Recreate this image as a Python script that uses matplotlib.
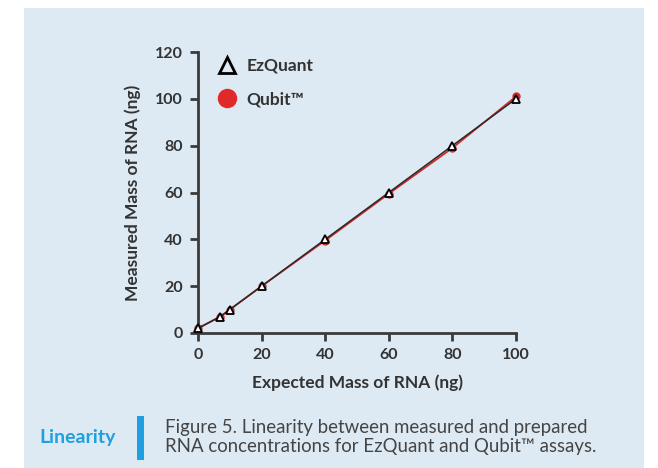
import numpy as np
import matplotlib.pyplot as plt
from matplotlib.lines import Line2D
from matplotlib.patches import Rectangle

plt.rcParams['font.family'] = ['Lato', 'DejaVu Sans']

# data
expected = [0, 7, 10, 20, 40, 60, 80, 100]
ezquant = [2, 7, 10, 20, 40, 60, 80, 100]
qubit = [2, 7, 10, 20, 39.5, 59.5, 79, 101]
xticks = [0, 20, 40, 60, 80, 100]
yticks = [0, 20, 40, 60, 80, 100, 120]

bg = '#deeaf3'
dark = '#333333'

fig = plt.figure(figsize=(6.58, 4.68), dpi=100)
fig.patch.set_facecolor('white')
# light blue panel behind everything
fig.patches.append(Rectangle((24 / 658, 0), 620 / 658, 1 - 8 / 468,
                             transform=fig.transFigure, facecolor=bg,
                             edgecolor='none', zorder=-10))

ax = fig.add_axes([198 / 658, 1 - 333 / 468, 318 / 658, 281 / 468])
ax.set_facecolor(bg)

ax.plot(expected, qubit, color='#d42a2a', lw=1.3, marker='o', ms=5,
        mfc='#d42a2a', mec='#d42a2a', clip_on=False, zorder=3)
ax.plot(expected, ezquant, color='#2a2a2a', lw=1.1, marker='^', ms=6,
        mfc='white', mec='black', mew=1.3, clip_on=False, zorder=4)

ax.set_xlim(0, 100)
ax.set_ylim(0, 120)
ax.set_xticks(xticks)
ax.set_yticks(yticks)
for s in ['top', 'right']:
    ax.spines[s].set_visible(False)
for s in ['left', 'bottom']:
    ax.spines[s].set_color('#3a3a3a')
    ax.spines[s].set_linewidth(2)
ax.tick_params(width=2, length=6, color='#3a3a3a', labelsize=11.5,
               labelcolor=dark, pad=5)
for lab in ax.get_xticklabels() + ax.get_yticklabels():
    lab.set_fontweight('bold')

ax.set_xlabel('Expected Mass of RNA (ng)', fontsize=12.5, fontweight='bold',
              color=dark, labelpad=9)
ax.set_ylabel('Measured Mass of RNA (ng)', fontsize=12.5, fontweight='bold',
              color=dark, labelpad=10)

handles = [
    Line2D([], [], ls='none', marker='^', ms=12, mfc='none', mec='black',
           mew=2),
    Line2D([], [], ls='none', marker='o', ms=13, mfc='#e02a2a',
           mec='#e02a2a'),
]
ax.legend(handles, ['EzQuant', 'Qubit™'], loc='upper left',
          bbox_to_anchor=(0.01, 1.035), frameon=False, labelspacing=1.0,
          handletextpad=0.5, handlelength=1.2,
          prop={'size': 12.5, 'weight': 'bold'}, labelcolor=dark)

# caption block
fig.text(78 / 658, 1 - 438 / 468, 'Linearity', ha='center', va='center',
         color='#1ea0e0', fontsize=14, fontweight='bold')
fig.patches.append(Rectangle((137 / 658, 1 - 460 / 468), 7 / 658, 44 / 468,
                             transform=fig.transFigure, facecolor='#1ea0e0',
                             edgecolor='none'))
fig.text(165 / 658, 1 - 437 / 468,
         'Figure 5. Linearity between measured and prepared\n'
         'RNA concentrations for EzQuant and Qubit™ assays.',
         ha='left', va='center', color='#444444', fontsize=13.4,
         linespacing=1.2)

fig.savefig('out.png', dpi=100, facecolor=fig.get_facecolor())
